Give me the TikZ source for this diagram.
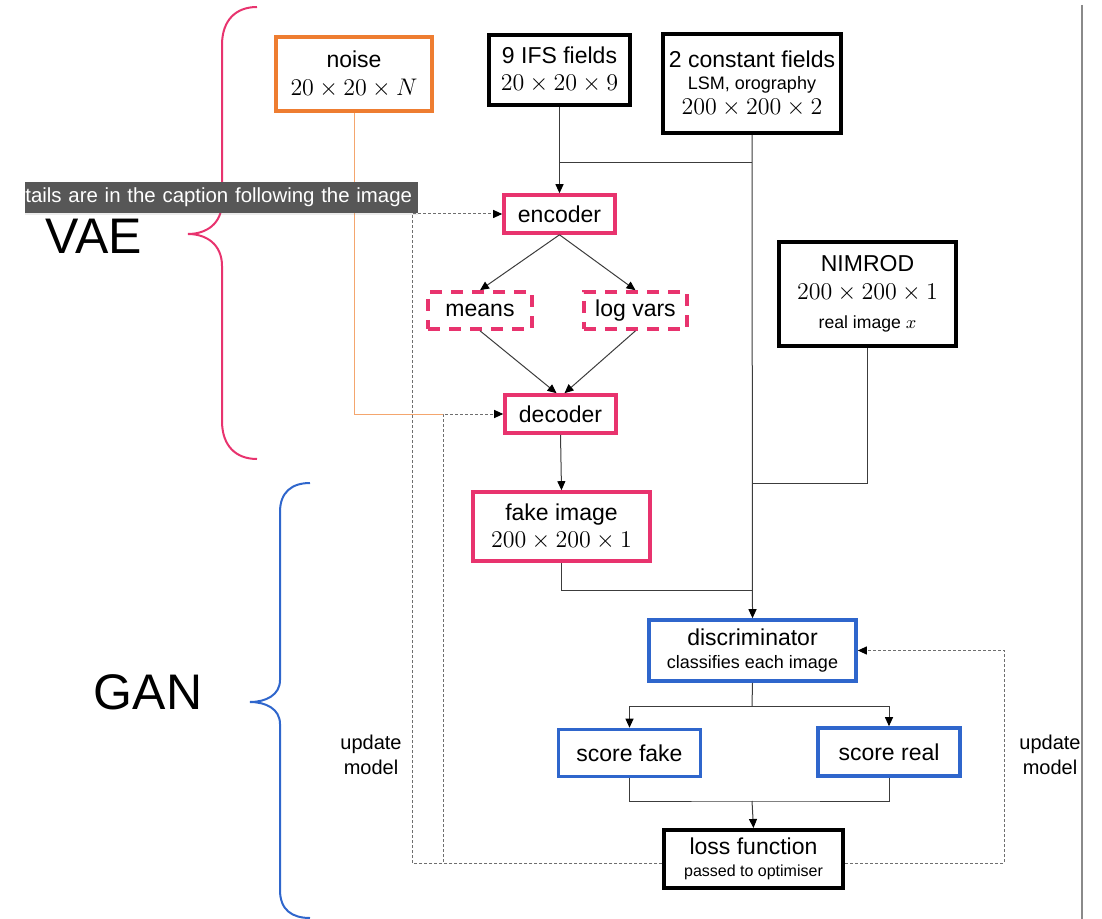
\documentclass[tikz,border=0pt]{standalone}
\usepackage{fontspec}
\setmainfont{Liberation Sans}
\usepackage{tikz}
\usetikzlibrary{arrows.meta, positioning, calc, shadows}
\definecolor{VaePink}{HTML}{E8336E}
\definecolor{GanBlue}{HTML}{2F66CC}
\definecolor{NoiseOrange}{HTML}{EE7D31}
\definecolor{NoiseLine}{HTML}{F4A66E}
\definecolor{LineGray}{HTML}{3C3C3C}
\definecolor{LoopGray}{HTML}{6E6E6E}
\definecolor{TipGray}{HTML}{575757}
\definecolor{RuleGray}{HTML}{8A8A8A}
\newcommand{\subtext}[2][9]{{\fontsize{#1}{#1}\selectfont #2}}

\begin{document}
\begin{tikzpicture}[x=0.5pt, y=-0.5pt,
    inputbox/.style={draw=black, line width=2pt, fill=white, align=center, inner sep=1pt,
                     font=\fontsize{11.5}{12}\selectfont},
    vaebox/.style={inputbox, draw=VaePink, line width=1.8pt},
    latentbox/.style={vaebox, dash pattern=on 6pt off 4.5pt},
    ganbox/.style={inputbox, draw=GanBlue, line width=1.8pt},
    noisebox/.style={inputbox, draw=NoiseOrange, line width=1.8pt},
    conn/.style={draw=LineGray, line width=0.5pt},
    arr/.style={conn, -{Triangle[length=4.5pt,width=4pt,color=black,fill=black]}},
    upd/.style={draw=LoopGray, line width=0.5pt, dash pattern=on 1.5pt off 1pt,
                -{Triangle[length=4.5pt,width=4pt,color=black,fill=black]}},
    updlabel/.style={align=center, font=\fontsize{10}{12.5}\selectfont},
    bigtag/.style={font=\fontsize{25}{25}\selectfont},
    tooltip/.style={fill=TipGray, text=white, inner xsep=0pt, inner ysep=0pt,
                    text width=196.5pt, align=left, minimum height=15.5pt,
                    font=\fontsize{10.2}{12}\selectfont,
                    drop shadow={shadow xshift=0pt, shadow yshift=-0.8pt, opacity=0.15}}]
    \useasboundingbox (0,0) rectangle (1102,919);

    % Inputs
    \node[noisebox, minimum width=78pt, minimum height=37pt] (noise) at (354,74)
        {noise\\[2pt]$20\times 20\times N$};
    \node[inputbox, minimum width=70.5pt, minimum height=35pt] (ifs) at (559.5,70)
        {9 IFS fields\\[1.5pt]$20\times 20\times 9$};
    \node[inputbox, minimum width=89pt, minimum height=49.5pt] (const) at (752,83.5)
        {2 constant fields\\[-1pt]\subtext{LSM, orography}\\[0.5pt]$200\times 200\times 2$};
    \node[inputbox, minimum width=88.5pt, minimum height=52pt] (nim) at (867.5,294)
        {NIMROD\\[2pt]$200\times 200\times 1$\\[2.5pt]\subtext[8.8]{real image $x$}};

    % VAE part
    \node[vaebox, minimum width=55.5pt, minimum height=19pt] (enc) at (559.5,214) {encoder};
    \node[latentbox, minimum width=52pt, minimum height=18.5pt] (means) at (480,310.5) {means};
    \node[latentbox, minimum width=51.5pt, minimum height=18.5pt] (logv) at (635.5,310.5) {log vars};
    \node[vaebox, minimum width=55.5pt, minimum height=19pt] (dec) at (560.5,414) {decoder};
    \node[vaebox, minimum width=88.5pt, minimum height=34.5pt] (fake) at (561.5,526.5)
        {fake image\\[1.5pt]$200\times 200\times 1$};

    % GAN part
    \node[ganbox, minimum width=103.5pt, minimum height=30.5pt] (disc) at (752.5,650.5)
        {discriminator\\[-0.5pt]\subtext{classifies each image}};
    \node[ganbox, minimum width=71pt, minimum height=23.5pt] (sfake) at (629.5,753) {score fake};
    \node[ganbox, minimum width=71pt, minimum height=24pt] (sreal) at (889,752) {score real};
    \node[inputbox, minimum width=89.5pt, minimum height=29pt] (loss) at (753.5,859)
        {loss function\\[-1pt]\subtext[8]{passed to optimiser}};

    % Joins
    \coordinate (fieldsjoin) at (752,163);
    \coordinate (realjoin) at (752,483);
    \coordinate (fakejoin) at (752,590);
    \coordinate (scoresplit) at (752,706);
    \coordinate (scorejoin) at (752,801);
    \coordinate (updouter) at (412,0);
    \coordinate (updinner) at (443,0);
    \coordinate (updright) at (1004,0);

    % Forward flow
    \draw[arr] (ifs.south) -- (enc.north);
    \draw[conn] (fieldsjoin) -- (fieldsjoin -| ifs.south);
    \draw[arr] (const.south) -- (disc.north);
    \draw[arr] (enc.south) -- (means.north);
    \draw[arr] (enc.south) -- (logv.north);
    \draw[arr] (means.south) -- ([xshift=-2pt]dec.north);
    \draw[arr] (logv.south) -- ([xshift=2pt]dec.north);
    \draw[arr] (dec.south) -- (fake.north);
    \draw[conn] (nim.south) |- (realjoin);
    \draw[conn] (fake.south) |- (fakejoin);
    \draw[conn] (disc.south) -- (scoresplit);
    \draw[arr] (scoresplit) -| (sfake.north);
    \draw[arr] (scoresplit) -| (sreal.north);
    \draw[conn] (sfake.south) |- (scorejoin) -| (sreal.south);
    \draw[arr] (scorejoin) -- (loss.north);

    % Noise into decoder
    \draw[NoiseLine, line width=0.5pt] (noise.south) |- (updinner |- dec.west);

    % Update loops
    \draw[upd] ([yshift=-2pt]loss.west) -| (updouter |- enc.west) -- (enc.west);
    \draw[upd] ([yshift=-2pt]loss.west) -| (updinner |- dec.west) -- (dec.west);
    \draw[upd] ([yshift=-2pt]loss.east) -| (updright |- disc.east) -- (disc.east);
    \node[updlabel] (updleft) at (371,755) {update\\model};
    \node[updlabel] (updrightlbl) at (1050,755) {update\\model};

    % Braces
    \draw[VaePink, line width=1pt] (257,7) .. controls (236,7) and (222,20) .. (222,45)
        -- (222,202) .. controls (222,224) and (206,234) .. (188,234)
        .. controls (206,234) and (222,244) .. (222,266)
        -- (222,421) .. controls (222,446) and (236,459) .. (257,459);
    \draw[GanBlue, line width=1pt] (310,483) .. controls (292,483) and (280,492) .. (280,512)
        -- (280,680) .. controls (280,695) and (266,702) .. (250,702)
        .. controls (266,702) and (280,709) .. (280,724)
        -- (280,890) .. controls (280,910) and (292,918) .. (310,918);
    \node[bigtag] (vae) at (94,236) {VAE};
    \node[bigtag] (gan) at (148,692) {GAN};

    % Page edge
    \draw[RuleGray, line width=1pt] (1082,5) -- (1082,919);

    % Overlay
    \node[tooltip, anchor=west] (tip) at (25,197.5) {tails are in the caption following the image};
\end{tikzpicture}
\end{document}
